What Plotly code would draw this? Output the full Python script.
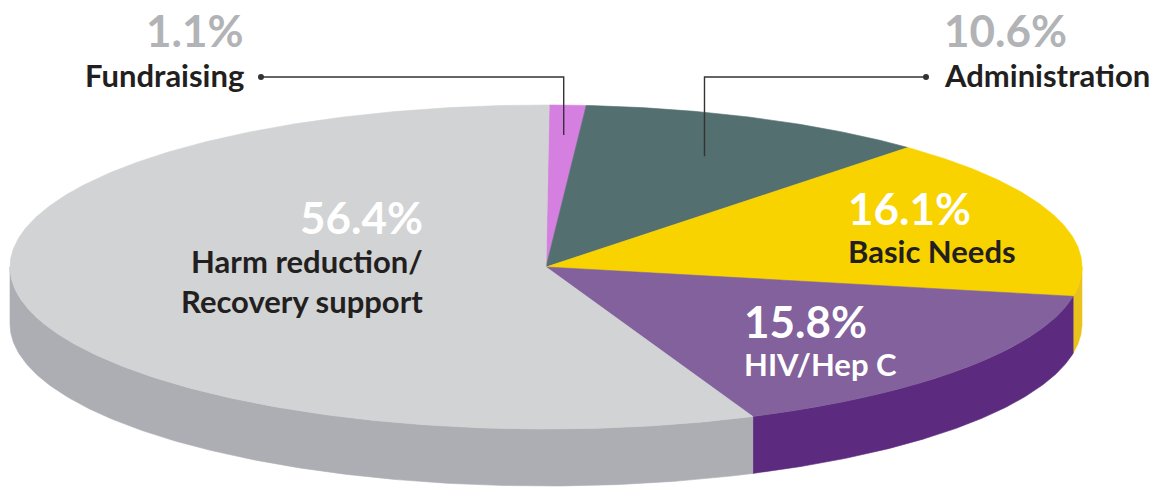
import numpy as np
import plotly.graph_objects as go

# ---- data ----
categories = ["Fundraising", "Administration", "Basic Needs", "HIV/Hep C",
              "Harm reduction/<br>Recovery support"]
values = [1.1, 10.6, 16.1, 15.8, 56.4]

# ---- styles ----
top_colors = ["#d580e0", "#546f6f", "#f8d300", "#82619c", "#d1d3d4"]
side_colors = ["#b566c2", "#3f5656", "#eac21c", "#5c2a7e", "#adaeb3"]

W, H = 1164, 489
cx, cy, rx, ry, depth = 546, 267, 536, 162, 57
offset = 0.006  # small starting rotation (radians, clockwise from 12 o'clock)


def pt(theta, f=1.0, dy=0.0):
    return cx + rx * f * np.sin(theta), cy - ry * f * np.cos(theta) + dy


fig = go.Figure()

total = sum(values)
bounds = []
acc = 0.0
for v in values:
    t0 = offset + 2 * np.pi * acc / total
    acc += v
    t1 = offset + 2 * np.pi * acc / total
    bounds.append((t0, t1))

# sides (front half only: pi/2 .. 3pi/2)
for (t0, t1), col in zip(bounds, side_colors):
    a, b = max(t0, np.pi / 2), min(t1, 3 * np.pi / 2)
    if a >= b:
        continue
    th = np.linspace(a, b, 200)
    xt, yt = pt(th)
    xb, yb = pt(th[::-1], dy=depth)
    xs = np.concatenate([xt, xb, xt[:1]])
    ys = np.concatenate([yt, yb, yt[:1]])
    fig.add_trace(go.Scatter(x=xs, y=ys, mode="lines", fill="toself",
                             fillcolor=col, line=dict(color=col, width=0.6),
                             hoverinfo="skip", showlegend=False))

# tops
for (t0, t1), col in zip(bounds, top_colors):
    th = np.linspace(t0, t1, max(int((t1 - t0) * 120), 8))
    xt, yt = pt(th)
    xs = np.concatenate([[cx], xt, [cx]])
    ys = np.concatenate([[cy], yt, [cy]])
    fig.add_trace(go.Scatter(x=xs, y=ys, mode="lines", fill="toself",
                             fillcolor=col, line=dict(color=col, width=0.6),
                             hoverinfo="skip", showlegend=False))

# leader lines for the two small slices
line_y = 77
leaders = [(0, 0.815, 261), (1, 0.745, 926)]  # (slice index, radius fraction, label dot x)
for idx, f, lx in leaders:
    t0, t1 = bounds[idx]
    ex, ey = pt((t0 + t1) / 2, f)
    fig.add_trace(go.Scatter(x=[lx, ex, ex], y=[line_y, line_y, ey], mode="lines",
                             line=dict(color="#333333", width=1.4),
                             hoverinfo="skip", showlegend=False))
    fig.add_trace(go.Scatter(x=[lx], y=[line_y], mode="markers",
                             marker=dict(color="#333333", size=6),
                             hoverinfo="skip", showlegend=False))

FONT = "Lato"
PCT_SIZE = 44
NAME_SIZE = 31
DARK = "#231f20"

# label layout: (pct x, pct y, name x, name y, anchor, pct color, name color)
label_layout = [
    (246, 30, 246, 75, "right", "#b1b3b6", DARK),
    (942, 30, 942, 75, "left", "#b1b3b6", DARK),
    (846, 208, 846, 251, "left", "white", DARK),
    (742, 321, 742, 364, "left", "white", "white"),
    (425, 217, 425, 281, "right", "white", DARK),
]

for cat, v, (px, py, nx, ny, anc, pc, nc) in zip(categories, values, label_layout):
    fig.add_annotation(x=px, y=py, text=f"<b>{v}%</b>", showarrow=False,
                       xanchor=anc, yanchor="middle",
                       font=dict(family=FONT, size=PCT_SIZE, color=pc))
    fig.add_annotation(x=nx, y=ny, text=f"<b>{cat}</b>", showarrow=False,
                       xanchor=anc, yanchor="middle", align=anc,
                       font=dict(family=FONT, size=NAME_SIZE, color=nc))

fig.update_layout(
    width=W, height=H,
    margin=dict(l=0, r=0, t=0, b=0),
    paper_bgcolor="white", plot_bgcolor="white",
    xaxis=dict(range=[0, W], visible=False, fixedrange=True),
    yaxis=dict(range=[H, 0], visible=False, fixedrange=True),
    showlegend=False,
)

fig.write_html("out.html")
